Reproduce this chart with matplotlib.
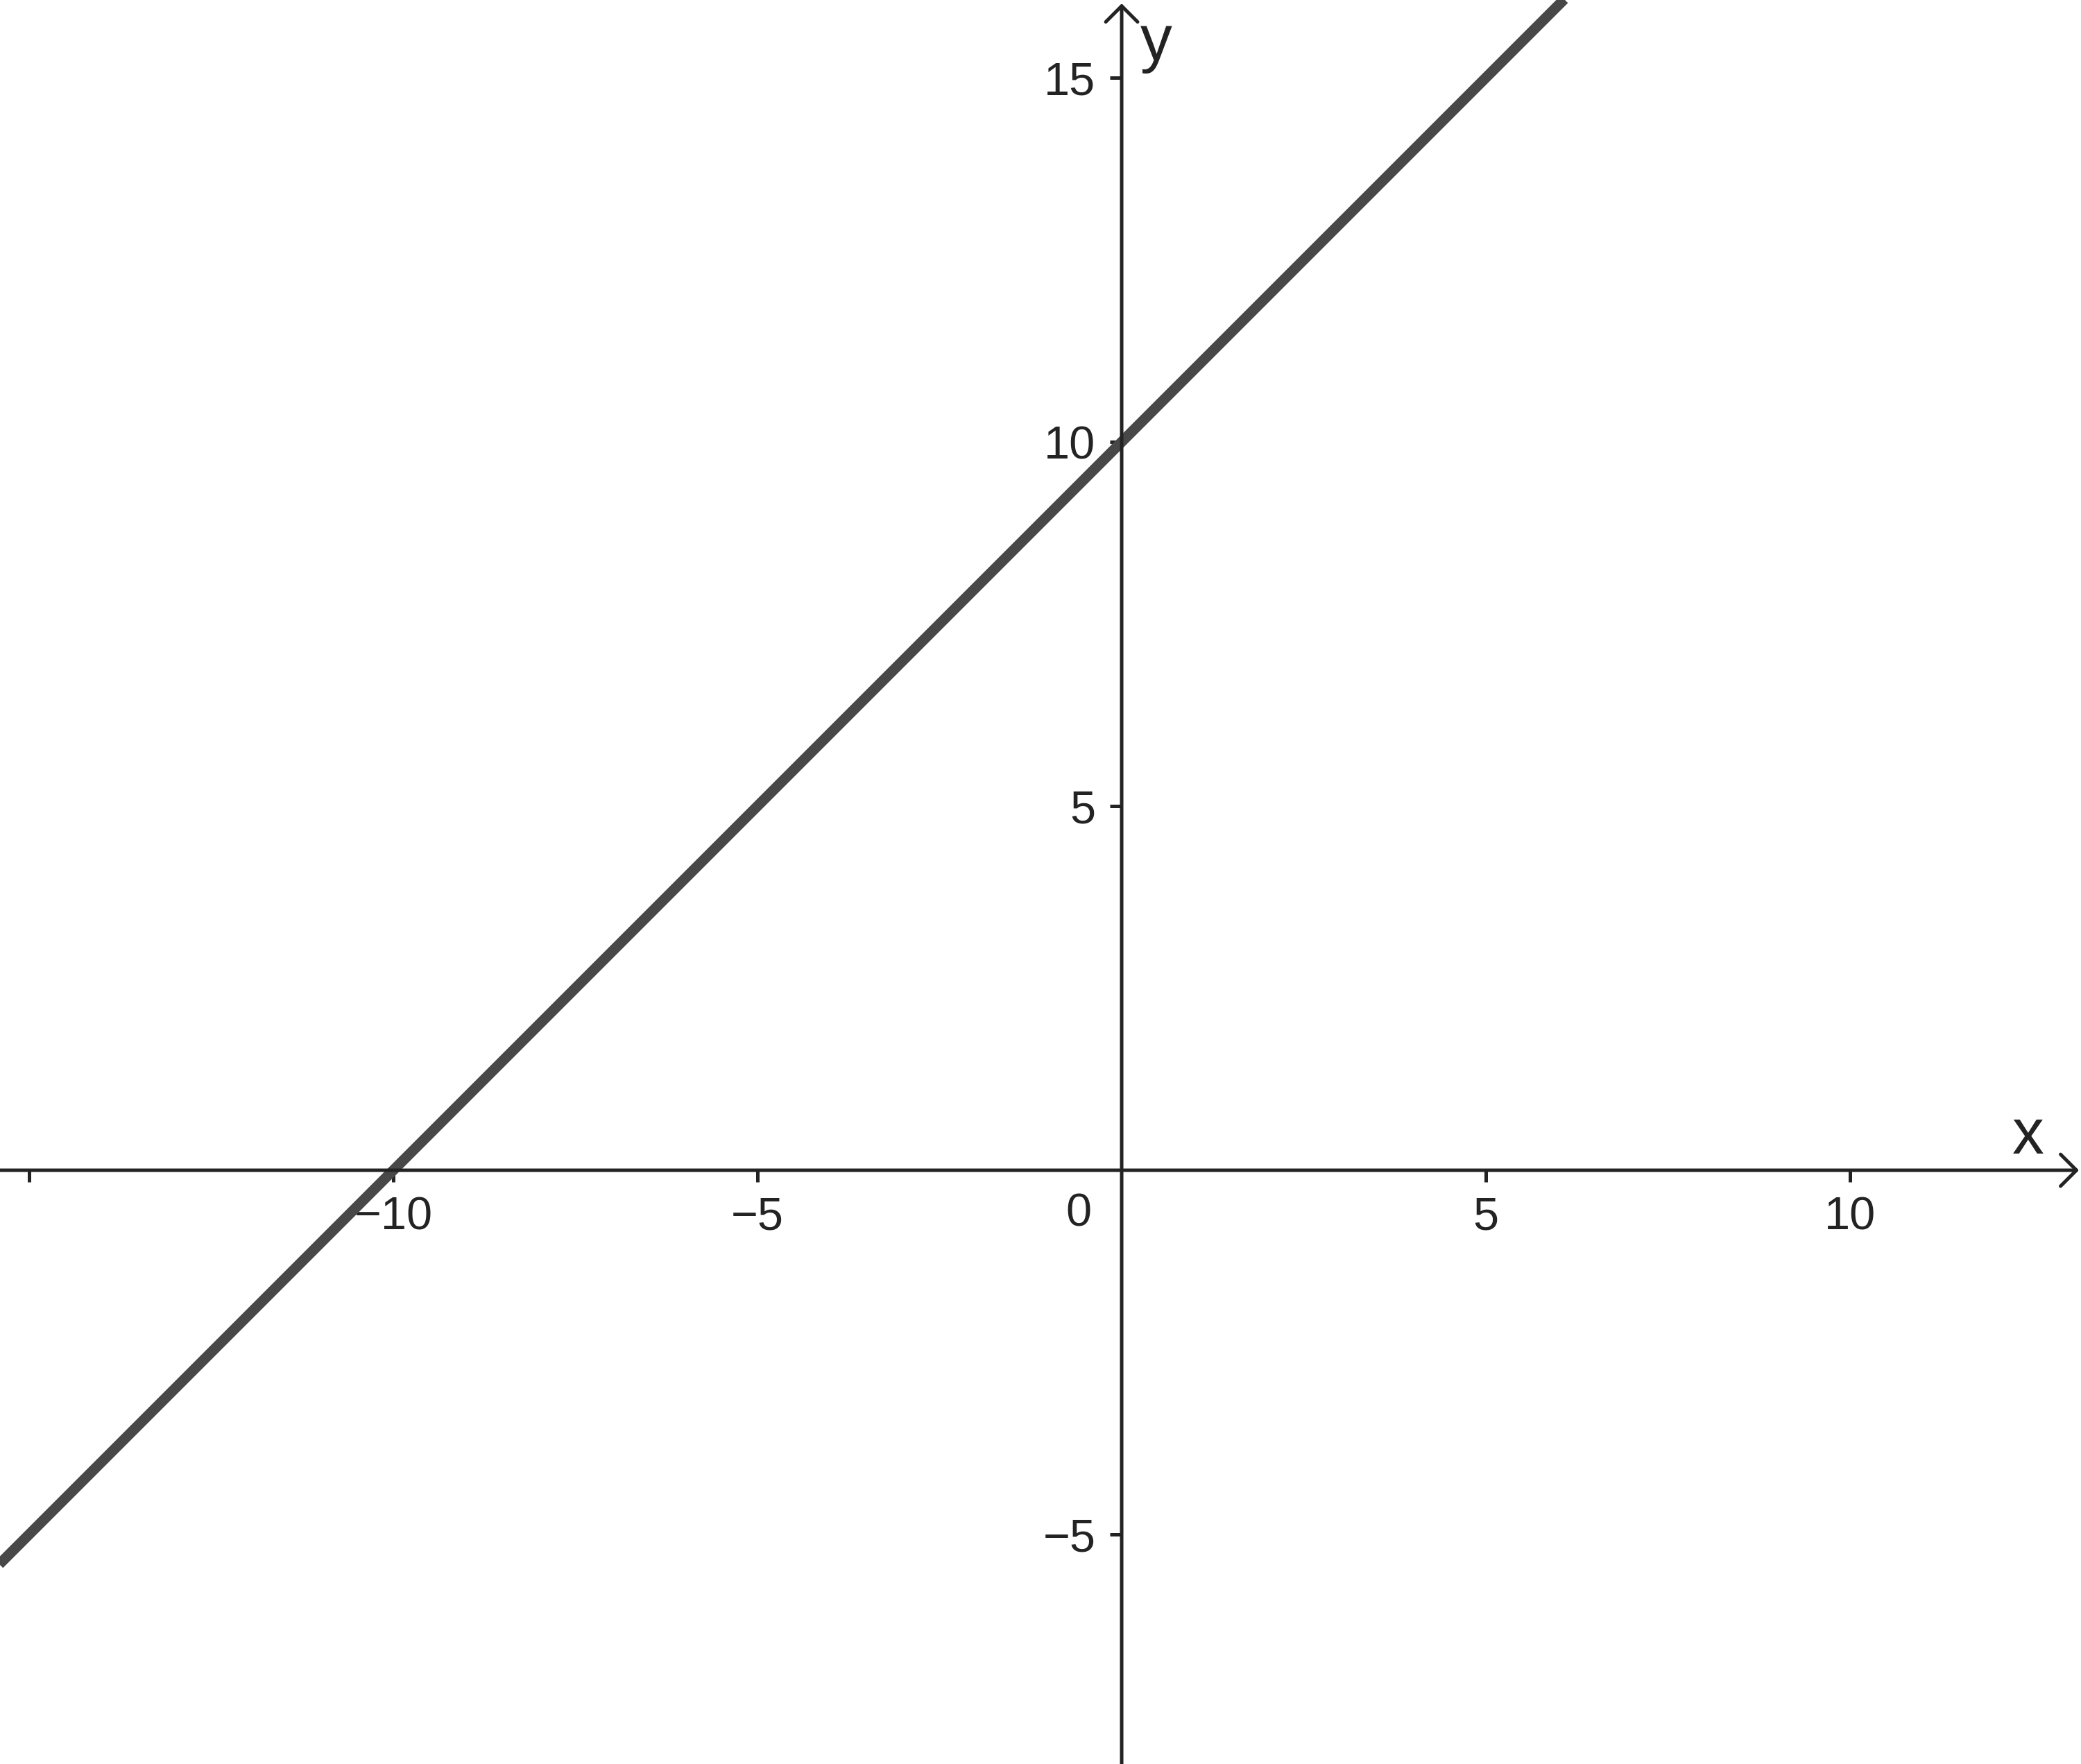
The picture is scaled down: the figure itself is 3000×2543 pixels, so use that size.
import matplotlib.pyplot as plt

plt.rcParams['font.family'] = ['Liberation Sans', 'DejaVu Sans']

# data for the line y = x + 10 (two end points)
line_x = [-16, 14]
line_y = [-6, 24]

# tick positions and labels
xtick_pos = [-15, -10, -5, 5, 10]
xtick_lab = ['', '\u221210', '\u22125', '5', '10']
ytick_pos = [-5, 5, 10, 15]
ytick_lab = ['\u22125', '5', '10', '15']

axis_col = '#232323'
line_col = '#484848'

fig = plt.figure(figsize=(10, 2543 / 300), dpi=300)
ax = fig.add_axes([0, 0, 1, 1])
ax.set_xlim(-15.4, 13.171)
ax.set_ylim(-8.152, 16.067)

ax.plot(line_x, line_y, color=line_col, lw=3.6, solid_capstyle='butt', zorder=3)

# axes through origin
for s in ['top', 'right']:
    ax.spines[s].set_visible(False)
ax.spines['left'].set_position(('data', 0))
ax.spines['bottom'].set_position(('data', 0))
ax.spines['left'].set_color('none')
ax.spines['bottom'].set_color('none')

ax.set_xticks(xtick_pos, xtick_lab)
ax.set_yticks(ytick_pos, ytick_lab)
ax.tick_params(direction='out', length=4, width=1.2, color=axis_col,
               labelsize=16, labelcolor=axis_col, pad=5)

# axis lines with open arrow heads
arrow = dict(arrowstyle='->,head_length=0.55,head_width=0.55', color=axis_col,
             lw=1.2, mutation_scale=10, shrinkA=0, shrinkB=0)
ax.annotate('', xy=(0.999, 0), xytext=(0, 0),
            xycoords=('axes fraction', 'data'), textcoords=('axes fraction', 'data'),
            arrowprops=arrow)
ax.annotate('', xy=(0, 0.998), xytext=(0, 0),
            xycoords=('data', 'axes fraction'), textcoords=('data', 'axes fraction'),
            arrowprops=arrow)

ax.text(-0.59, -0.6, '0', ha='center', va='center', fontsize=16, color=axis_col)
ax.text(12.45, 0.23, 'x', ha='center', va='baseline', fontsize=22, color=axis_col)
ax.text(0.25, 15.24, 'y', ha='left', va='baseline', fontsize=22, color=axis_col)

fig.savefig('out.png', dpi=300, facecolor='white')
